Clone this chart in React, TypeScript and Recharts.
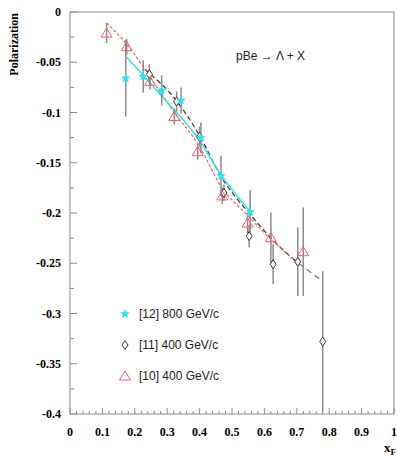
import React from "react"
import {
  ComposedChart,
  Scatter,
  Line,
  XAxis,
  YAxis,
  ErrorBar,
  ReferenceLine,
  Legend,
} from "recharts"

// [12] 800 GeV/c
const starX = [0.172, 0.226, 0.283, 0.343, 0.404, 0.466, 0.556]
const starY = [-0.066, -0.064, -0.078, -0.088, -0.125, -0.163, -0.199]
const starErr = [0.038, 0.016, 0.015, 0.013, 0.015, 0.02, 0.022]

// [11] 400 GeV/c
const diaX = [0.245, 0.329, 0.4, 0.475, 0.553, 0.627, 0.703, 0.78]
const diaY = [-0.062, -0.089, -0.124, -0.18, -0.223, -0.251, -0.2485, -0.328]
const diaErr = [0.01, 0.01, 0.01, 0.008, 0.011, 0.02, 0.034, 0.07]

// [10] 400 GeV/c
const triX = [0.113, 0.175, 0.247, 0.322, 0.394, 0.47, 0.548, 0.62, 0.72]
const triY = [-0.021, -0.0345, -0.069, -0.104, -0.139, -0.183, -0.21, -0.2245, -0.2385]
const triErr = [0.01, 0.008, 0.008, 0.008, 0.008, 0.008, 0.01, 0.025, 0.044]

// fit curves
const cyanFitX = [0.175, 0.29, 0.4, 0.466, 0.558]
const cyanFitY = [-0.045, -0.086, -0.128, -0.162, -0.199]
const redFitX = [0.113, 0.175, 0.25, 0.32, 0.4, 0.463, 0.55, 0.62, 0.705]
const redFitY = [-0.011, -0.032, -0.066, -0.099, -0.134, -0.172, -0.203, -0.226, -0.25]
const blackFitX = [0.231, 0.33, 0.4, 0.463, 0.558, 0.63, 0.705]
const blackFitY = [-0.057, -0.089, -0.123, -0.162, -0.202, -0.228, -0.25]
const tailFitX = [0.705, 0.772]
const tailFitY = [-0.25, -0.266]

const xMajor = ["0", "0.1", "0.2", "0.3", "0.4", "0.5", "0.6", "0.7", "0.8", "0.9", "1"]
const yMajor = ["0", "-0.05", "-0.1", "-0.15", "-0.2", "-0.25", "-0.3", "-0.35", "-0.4"]

const xTicks = Array.from({ length: 51 }, (_, i) => Math.round(i * 2) / 100)
const yTicks = Array.from({ length: 17 }, (_, i) => -Math.round(i * 25) / 1000)

const CYAN = "#2fe3ef"
const RED = "#ff5c5c"
const DARK = "#333"
const GRAY = "#8a8a8a"
const SERIF = "'Liberation Serif', 'Times New Roman', serif"
const SANS = "'Liberation Sans', Arial, sans-serif"

const pts = (xs: number[], ys: number[], es?: number[]) =>
  xs.map((x, i) => ({ x, y: ys[i], e: es ? es[i] : 0 }))

const starData = pts(starX, starY, starErr)
const diaData = pts(diaX, diaY, diaErr)
const triData = pts(triX, triY, triErr)

function starPath(cx: number, cy: number, r: number) {
  let d = ""
  for (let i = 0; i < 10; i++) {
    const rr = i % 2 === 0 ? r : r * 0.45
    const a = -Math.PI / 2 + (i * Math.PI) / 5
    d += (i === 0 ? "M" : "L") + (cx + rr * Math.cos(a)).toFixed(2) + "," + (cy + rr * Math.sin(a)).toFixed(2)
  }
  return d + "Z"
}

const Star = ({ cx, cy }: any) => <path d={starPath(cx, cy, 5)} fill={CYAN} />
const Diamond = ({ cx, cy }: any) => (
  <path d={`M${cx},${cy - 4.5}L${cx + 3},${cy}L${cx},${cy + 4.5}L${cx - 3},${cy}Z`} fill="#fff" stroke={DARK} strokeWidth={1} />
)
const Triangle = ({ cx, cy }: any) => (
  <path d={`M${cx},${cy - 5}L${cx + 5.5},${cy + 4}L${cx - 5.5},${cy + 4}Z`} fill="none" stroke={RED} strokeWidth={1} />
)

const XTick = ({ x, y, payload }: any) => {
  const v = payload.value
  const idx = Math.round(v * 10)
  const major = Math.abs(v * 10 - idx) < 1e-6
  return (
    <g>
      <line x1={x} y1={y} x2={x} y2={y - (major ? 6 : 3)} stroke={GRAY} />
      {major && (
        <text x={x} y={y + 22} textAnchor="middle" fontFamily={SERIF} fontWeight="bold" fontSize={12} fill="#000">
          {xMajor[idx]}
        </text>
      )}
    </g>
  )
}

const YTick = ({ x, y, payload }: any) => {
  const v = payload.value
  const idx = Math.round(-v * 20)
  const major = Math.abs(-v * 20 - idx) < 1e-6
  return (
    <g>
      <line x1={x} y1={y} x2={x + (major ? 7 : 4)} y2={y} stroke={GRAY} />
      {major && (
        <text x={x - 9} y={y + 4} textAnchor="end" fontFamily={SERIF} fontWeight="bold" fontSize={12} fill="#000">
          {yMajor[idx]}
        </text>
      )}
    </g>
  )
}

const legendItems = [
  { label: "[12] 800 GeV/c", icon: "star" },
  { label: "[11] 400 GeV/c", icon: "diamond" },
  { label: "[10] 400 GeV/c", icon: "triangle" },
]

const LegendBox = () => (
  <div style={{ fontFamily: SANS, fontSize: 12, color: "#222" }}>
    {legendItems.map((it) => (
      <div key={it.label} style={{ display: "flex", alignItems: "center", height: 31 }}>
        <svg width={16} height={14} style={{ marginRight: 6 }}>
          {it.icon === "star" && <Star cx={8} cy={7} />}
          {it.icon === "diamond" && <Diamond cx={8} cy={7} />}
          {it.icon === "triangle" && <Triangle cx={8} cy={7} />}
        </svg>
        <span>{it.label}</span>
      </div>
    ))}
  </div>
)

export default function App() {
  return (
    <div style={{ position: "absolute", left: 0, top: 0, width: 397, height: 459, background: "#fff" }}>
      <ComposedChart width={397} height={459} margin={{ top: 12, right: 3, bottom: 0, left: 0 }}>
        <XAxis
          type="number"
          dataKey="x"
          domain={[0, 1]}
          ticks={xTicks}
          interval={0}
          height={45}
          tickLine={false}
          tickSize={0}
          tickMargin={0}
          tick={<XTick />}
          axisLine={{ stroke: GRAY }}
          allowDataOverflow
          label={({ viewBox }: any) => (
            <text x={viewBox.x + viewBox.width - 10} y={viewBox.y + 38} fontFamily={SERIF} fontWeight="bold" fontSize={13} fill="#000">
              x<tspan fontSize={9} dy={3}>F</tspan>
            </text>
          )}
        />
        <YAxis
          type="number"
          dataKey="y"
          domain={[-0.4, 0]}
          ticks={yTicks}
          interval={0}
          width={70}
          tickLine={false}
          tickSize={0}
          tickMargin={0}
          tick={<YTick />}
          axisLine={{ stroke: GRAY }}
          allowDataOverflow
          label={({ viewBox }: any) => (
            <text
              x={15}
              y={viewBox.y + 1}
              transform={`rotate(-90, 15, ${viewBox.y + 1})`}
              textAnchor="end"
              dominantBaseline="middle"
              fontFamily={SERIF}
              fontWeight="bold"
              fontSize={12}
              fill="#000"
            >
              Polarization
            </text>
          )}
        />
        <ReferenceLine x={1} stroke={GRAY} />
        <ReferenceLine y={0} stroke={GRAY} />

        <Line data={pts(blackFitX, blackFitY)} dataKey="y" type="monotone" stroke={DARK} strokeWidth={1.2} strokeDasharray="5 3" dot={false} isAnimationActive={false} />
        <Line data={pts(tailFitX, tailFitY)} dataKey="y" type="linear" stroke="#777" strokeWidth={1.2} strokeDasharray="6 4" dot={false} isAnimationActive={false} />
        <Line data={pts(redFitX, redFitY)} dataKey="y" type="monotone" stroke={RED} strokeWidth={1.2} strokeDasharray="3 2" dot={false} isAnimationActive={false} />
        <Line data={pts(cyanFitX, cyanFitY)} dataKey="y" type="monotone" stroke={CYAN} strokeWidth={1.5} dot={false} isAnimationActive={false} />

        <Scatter data={diaData} dataKey="y" shape={<Diamond />} isAnimationActive={false}>
          <ErrorBar dataKey="e" direction="y" width={0} stroke={GRAY} strokeWidth={1.5} />
        </Scatter>
        <Scatter data={triData} dataKey="y" shape={<Triangle />} isAnimationActive={false}>
          <ErrorBar dataKey="e" direction="y" width={0} stroke={GRAY} strokeWidth={1.5} />
        </Scatter>
        <Scatter data={starData} dataKey="y" shape={<Star />} isAnimationActive={false}>
          <ErrorBar dataKey="e" direction="y" width={0} stroke={GRAY} strokeWidth={1.5} />
        </Scatter>

        <Legend layout="vertical" align="center" verticalAlign="middle" wrapperStyle={{ left: 117, top: 298, width: 150 }} content={() => <LegendBox />} />
      </ComposedChart>
      <div style={{ position: "absolute", left: 236, top: 49, fontFamily: SANS, fontSize: 12, color: "#222", whiteSpace: "nowrap" }}>
        pBe → Λ + X
      </div>
    </div>
  )
}
